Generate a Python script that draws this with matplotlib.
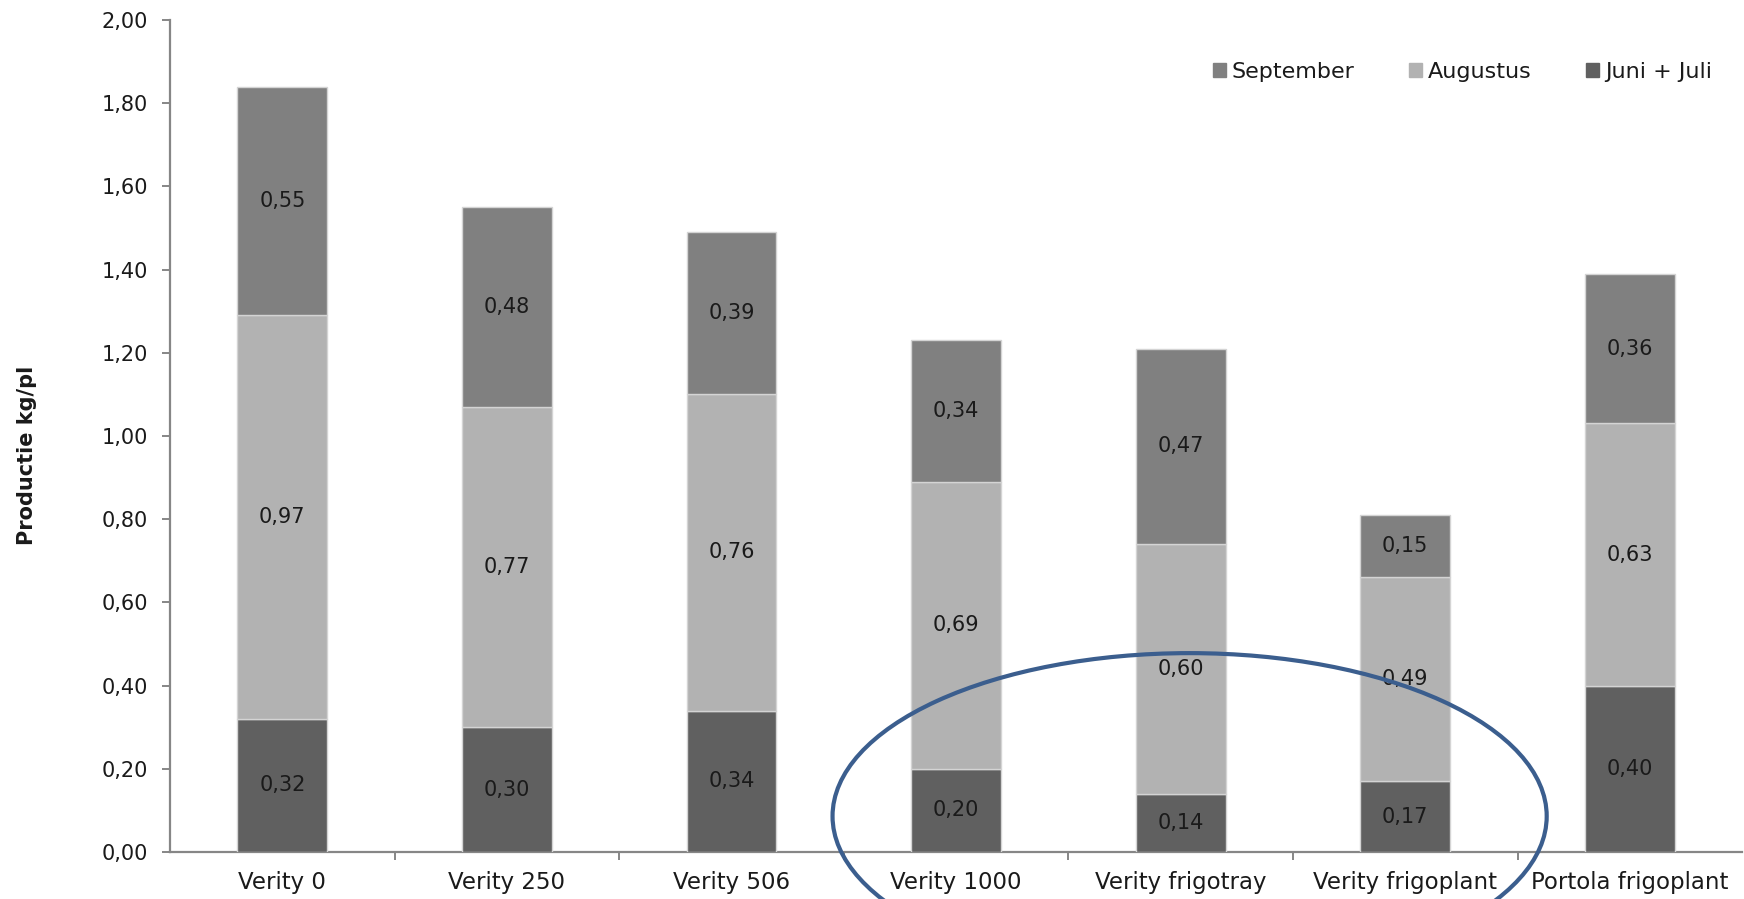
import matplotlib
matplotlib.use("Agg")
import matplotlib.pyplot as plt
from matplotlib.patches import Ellipse, Patch
import numpy as np

# ── Data ─────────────────────────────────────────────────────────────────────
categories = ["Verity 0", "Verity 250", "Verity 506", "Verity 1000",
              "Verity frigotray", "Verity frigoplant", "Portola frigoplant"]
juni_juli = [0.32, 0.30, 0.34, 0.20, 0.14, 0.17, 0.40]
augustus  = [0.97, 0.77, 0.76, 0.69, 0.60, 0.49, 0.63]
september = [0.55, 0.48, 0.39, 0.34, 0.47, 0.15, 0.36]
y_ticks   = [0.0, 0.2, 0.4, 0.6, 0.8, 1.0, 1.2, 1.4, 1.6, 1.8, 2.0]

# ── Style ────────────────────────────────────────────────────────────────────
C_JJ   = "#606060"
C_AUG  = "#B2B2B2"
C_SEP  = "#808080"
EDGE   = "#D4D4D4"
AXIS   = "#868686"
TEXT   = "#1A1A1A"
CIRCLE = "#3B5E8E"

plt.rcParams["font.family"] = ["DejaVu Sans"]

fig = plt.figure(figsize=(17.44, 8.99), dpi=100)
fig.patch.set_facecolor("white")
ax = fig.add_axes([0.0975, 0.0523, 0.9014, 0.9255])

x = np.arange(len(categories))
w = 0.40
bottom_aug = np.array(juni_juli)
bottom_sep = bottom_aug + np.array(augustus)

ax.bar(x, juni_juli, w, color=C_JJ, edgecolor=EDGE, linewidth=1, zorder=3)
ax.bar(x, augustus, w, bottom=bottom_aug, color=C_AUG, edgecolor=EDGE, linewidth=1, zorder=3)
ax.bar(x, september, w, bottom=bottom_sep, color=C_SEP, edgecolor=EDGE, linewidth=1, zorder=3)

def fmt(v):
    return f"{v:.2f}".replace(".", ",")

# value labels in the middle of each segment
for i in range(len(categories)):
    for base, val in ((0, juni_juli[i]), (bottom_aug[i], augustus[i]), (bottom_sep[i], september[i])):
        ax.text(x[i], base + val / 2, fmt(val), ha="center", va="center",
                fontsize=15, color=TEXT, zorder=4)

# ── Axes ─────────────────────────────────────────────────────────────────────
ax.set_xlim(-0.5, len(categories) - 0.5)
ax.set_ylim(0, 2.0)
ax.set_yticks(y_ticks)
ax.set_yticklabels([fmt(v) for v in y_ticks])
ax.set_xticks(x)
ax.set_xticklabels(categories)
ax.set_xticks(np.arange(0.5, len(categories) - 0.5, 1), minor=True)

for s in ("top", "right"):
    ax.spines[s].set_visible(False)
for s in ("left", "bottom"):
    ax.spines[s].set_color(AXIS)
    ax.spines[s].set_linewidth(1.6)

ax.tick_params(axis="y", length=6, width=1.4, color=AXIS, labelsize=15, labelcolor=TEXT, pad=10)
ax.tick_params(axis="x", which="major", length=0, labelsize=16.5, labelcolor=TEXT, pad=14)
ax.tick_params(axis="x", which="minor", length=6, width=1.4, color=AXIS)

fig.text(0.0155, 0.493, "Productie kg/pl", rotation=90, ha="center", va="center",
         fontsize=15, fontweight="bold", color=TEXT)

# ── Legend ───────────────────────────────────────────────────────────────────
handles = [Patch(color=C_SEP, label="September"),
           Patch(color=C_AUG, label="Augustus"),
           Patch(color=C_JJ, label="Juni + Juli")]
fig.legend(handles=handles, ncol=3, loc="center right",
           bbox_to_anchor=(1712 / 1744, 1 - 72 / 899), bbox_transform=fig.transFigure,
           frameon=False, fontsize=16, handlelength=0.6, handleheight=0.6,
           handletextpad=0.25, columnspacing=2.45, borderpad=0, borderaxespad=0,
           labelcolor=TEXT)

# ── Highlight ellipse ────────────────────────────────────────────────────────
ell = Ellipse((4.04, 0.086), width=3.18, height=0.784, fill=False,
              edgecolor=CIRCLE, linewidth=3, zorder=6, clip_on=False)
ax.add_patch(ell)

fig.savefig("out.png", dpi=100, facecolor="white")
